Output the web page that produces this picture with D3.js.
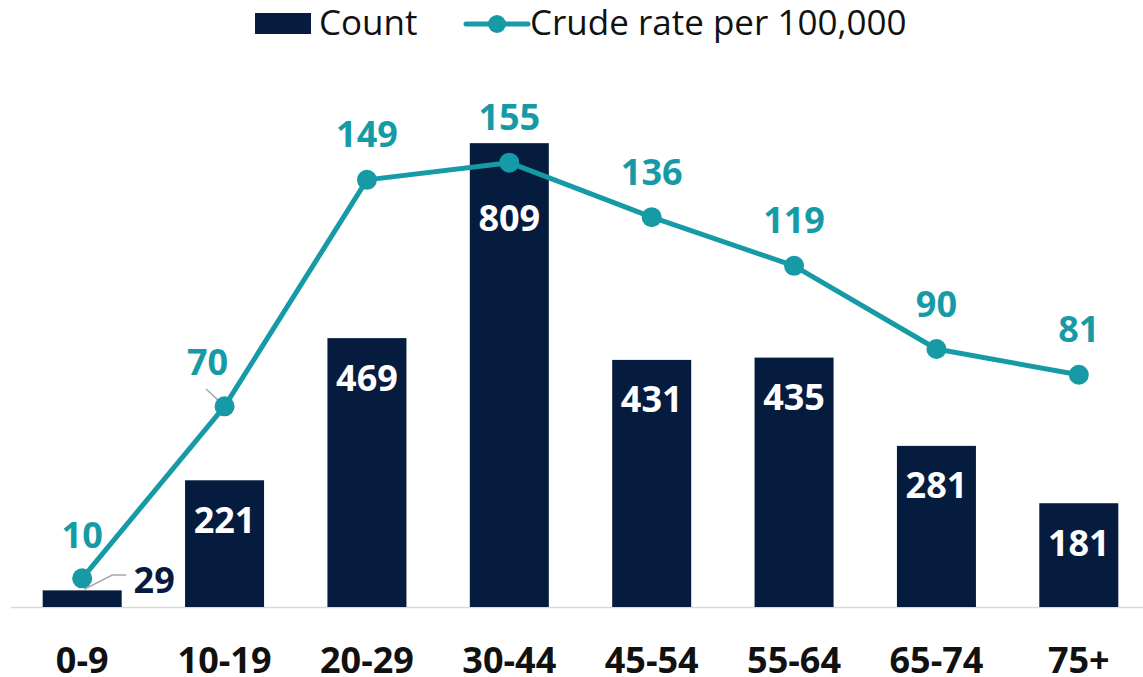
<!DOCTYPE html>
<html>
<head>
<meta charset="utf-8">
<script src="https://cdn.jsdelivr.net/npm/d3@7"></script>
<style>
  body { margin: 0; background: #fff; }
  text { font-family: "Open Sans", "Liberation Sans", sans-serif; }
</style>
</head>
<body>
<div id="chart"></div>
<script>
const width = 1143;
const height = 677;

// datos
const ageGroups = ['0-9', '10-19', '20-29', '30-44', '45-54', '55-64', '65-74', '75+'];
const counts = [29, 221, 469, 809, 431, 435, 281, 181];
const rates = [10, 70, 149, 155, 136, 119, 90, 81];

const barColor = '#061c3f';
const lineColor = '#169ba6';

const baseY = 607;
const topY = 91;

const svg = d3.select('#chart')
  .append('svg')
  .attr('width', width)
  .attr('height', height);

const data = ageGroups.map((g, i) => ({ group: g, count: counts[i], rate: rates[i] }));

// escalas
const xScale = d3.scaleBand()
  .domain(ageGroups)
  .range([11, 1150])
  .paddingInner(0.445)
  .paddingOuter(0.2225);

const yCount = d3.scaleLinear().domain([0, 900]).range([baseY, topY]);
const yRate = d3.scaleLinear().domain([0, 180]).range([baseY, topY]);

const cx = d => xScale(d.group) + xScale.bandwidth() / 2;

// linea base
svg.append('line')
  .attr('x1', 11).attr('x2', width)
  .attr('y1', baseY + 0.5).attr('y2', baseY + 0.5)
  .attr('stroke', '#d9d9d9')
  .attr('stroke-width', 1.5);

// barras
svg.selectAll('.bar')
  .data(data)
  .enter()
  .append('rect')
  .attr('class', 'bar')
  .attr('x', d => xScale(d.group))
  .attr('y', d => yCount(d.count))
  .attr('width', xScale.bandwidth())
  .attr('height', d => baseY - yCount(d.count))
  .attr('fill', barColor);

// eje x
const xAxis = svg.append('g')
  .attr('transform', `translate(0, ${baseY})`)
  .call(d3.axisBottom(xScale).tickSize(0).tickPadding(40));
xAxis.select('.domain').remove();
xAxis.selectAll('text')
  .attr('font-size', 36)
  .attr('font-weight', 'bold')
  .attr('fill', '#111')
  .attr('font-family', '"Open Sans", sans-serif');

// lineas guia (leader lines)
svg.append('polyline')
  .attr('points', [[cx(data[0]) + 2, yCount(29) - 1], [cx(data[0]) + 30, 575], [cx(data[0]) + 44, 575]].join(' '))
  .attr('fill', 'none').attr('stroke', '#a6a6a6').attr('stroke-width', 1.5);
svg.append('line')
  .attr('x1', 206).attr('y1', 389)
  .attr('x2', cx(data[1]) - 4).attr('y2', yRate(70) - 4)
  .attr('stroke', '#a6a6a6').attr('stroke-width', 1.5);

// etiquetas de count
const countOffset = { '30-44': 75 };
svg.selectAll('.countlabel')
  .data(data)
  .enter()
  .append('text')
  .attr('class', 'countlabel')
  .attr('x', d => d.group === '0-9' ? cx(d) + 72 : cx(d))
  .attr('y', d => d.group === '0-9' ? 580 : yCount(d.count) + (countOffset[d.group] || 40))
  .attr('dy', '0.35em')
  .attr('text-anchor', 'middle')
  .attr('font-size', 36)
  .attr('font-weight', 'bold')
  .attr('fill', d => d.group === '0-9' ? barColor : '#fff')
  .text(d => d.count);

// linea de tasa
const line = d3.line()
  .x(d => cx(d))
  .y(d => yRate(d.rate));

svg.append('path')
  .datum(data)
  .attr('d', line)
  .attr('fill', 'none')
  .attr('stroke', lineColor)
  .attr('stroke-width', 5)
  .attr('stroke-linejoin', 'round');

svg.selectAll('.dot')
  .data(data)
  .enter()
  .append('circle')
  .attr('class', 'dot')
  .attr('cx', d => cx(d))
  .attr('cy', d => yRate(d.rate))
  .attr('r', 10)
  .attr('fill', lineColor);

// etiquetas de tasa
const rateShift = { '0-9': [0, 43], '10-19': [-17, 44] };
svg.selectAll('.ratelabel')
  .data(data)
  .enter()
  .append('text')
  .attr('class', 'ratelabel')
  .attr('x', d => cx(d) + (rateShift[d.group] ? rateShift[d.group][0] : 0))
  .attr('y', d => yRate(d.rate) - (rateShift[d.group] ? rateShift[d.group][1] : 45))
  .attr('dy', '0.35em')
  .attr('text-anchor', 'middle')
  .attr('font-size', 36)
  .attr('font-weight', 'bold')
  .attr('fill', lineColor)
  .text(d => d.rate);

// leyenda
const legend = svg.append('g').attr('class', 'legend');
legend.append('rect')
  .attr('x', 255).attr('y', 13)
  .attr('width', 56).attr('height', 21)
  .attr('fill', barColor);
legend.append('text')
  .attr('x', 319).attr('y', 23)
  .attr('dy', '0.35em')
  .attr('font-size', 35)
  .attr('fill', '#111')
  .text('Count');
legend.append('line')
  .attr('x1', 466).attr('x2', 528)
  .attr('y1', 24).attr('y2', 24)
  .attr('stroke', lineColor).attr('stroke-width', 5)
  .attr('stroke-linecap', 'round');
legend.append('circle')
  .attr('cx', 497).attr('cy', 24).attr('r', 9)
  .attr('fill', lineColor);
legend.append('text')
  .attr('x', 530).attr('y', 23)
  .attr('dy', '0.35em')
  .attr('font-size', 35)
  .attr('fill', '#111')
  .text('Crude rate per 100,000');
</script>
</body>
</html>
